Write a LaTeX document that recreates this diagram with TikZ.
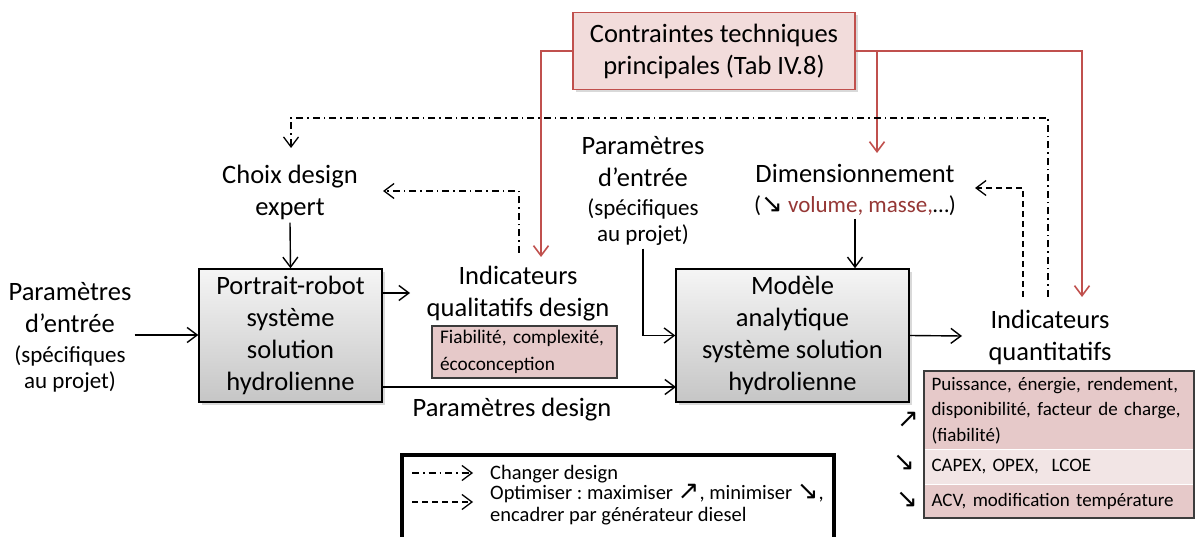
\documentclass[tikz,border=0pt]{standalone}
\usepackage{fontspec}
\setmainfont{Carlito}
\newfontfamily\arrowfont{DejaVu Sans}
\usetikzlibrary{arrows.meta,shadows}

\definecolor{redline}{RGB}{192,80,77}
\definecolor{pinkbox}{RGB}{242,220,219}
\definecolor{pinkrow}{RGB}{230,201,201}
\definecolor{palerow}{RGB}{242,229,229}
\definecolor{darkred}{RGB}{149,55,53}
\definecolor{boxline}{RGB}{60,60,60}

\newcommand{\mainsize}{\fontsize{26.5}{32}\selectfont}
\newcommand{\smallsize}{\fontsize{23}{26}\selectfont}
\newcommand{\boxsize}{\fontsize{19}{25.5}\selectfont}
\newcommand{\legsize}{\fontsize{20.5}{22}\selectfont}
\newcommand{\arrUp}{{\arrowfont\fontsize{26}{20}\selectfont ↗}}
\newcommand{\arrDown}{{\arrowfont\fontsize{26}{20}\selectfont ↘}}

\begin{document}
\frenchspacing
\begin{tikzpicture}[x=1pt, y=-1pt,
  txt/.style={font=\mainsize, align=center, inner sep=3pt},
  sysbox/.style={draw=black, line width=1.5pt, top color=gray!8, bottom color=gray!45,
    minimum width=183pt, minimum height=133pt, font=\mainsize, align=center,
    drop shadow={shadow xshift=2.5pt, shadow yshift=-3pt, opacity=0.3}},
  qrow/.style={anchor=north west, minimum width=269pt, text width=255pt, inner xsep=7pt,
    inner ysep=2pt, align=left, font=\boxsize, draw=white, line width=1pt},
  arr/.style={-{Straight Barb[length=10pt,width=15pt]}, line width=1.4pt},
  redarr/.style={arr, draw=redline, line width=1.6pt},
  chgarr/.style={arr, line width=1.3pt, dash pattern=on 7pt off 4pt on 1.5pt off 4pt},
  optarr/.style={arr, line width=1.3pt, dash pattern=on 6pt off 4pt}]
\useasboundingbox (0,0) rectangle (1195,537);

% boites principales
\node[draw=redline, line width=1.6pt, fill=pinkbox, minimum width=282pt, minimum height=77pt,
  font=\mainsize, align=center, drop shadow={shadow xshift=2.5pt, shadow yshift=-3pt, opacity=0.3}]
  (cont) at (714,51) {Contraintes techniques\\principales (Tab IV.8)};
\node[sysbox] (portrait) at (290.5,335.5) {Portrait-robot\\système\\solution\\hydrolienne};
\node[sysbox, minimum width=233pt] (modele) at (792.5,335.5) {Modèle\\analytique\\système solution\\hydrolienne};

% textes
\node[txt] (paramL) at (70,337) {Paramètres\\d’entrée\\[-2pt]{\smallsize (spécifiques}\\[-6pt]{\smallsize au projet)}};
\node[txt] (paramM) at (643,191) {Paramètres\\d’entrée\\[-3pt]{\smallsize (spécifiques}\\[-6pt]{\smallsize au projet)}};
\node[txt] (choix) at (290,192) {Choix design\\expert};
\node[txt] (qualind) at (518,294) {Indicateurs\\qualitatifs design};
\node[txt] (dimens) at (855,190) {Dimensionnement\\[-2pt]{\smallsize (\arrDown\ {\color{darkred}volume, masse,}…)}};
\node[txt] (quantind) at (1050,337) {Indicateurs\\quantitatifs};
\node[txt] (pdesign) at (512,410) {Paramètres design};

% indicateurs
\node[draw=boxline, line width=1.5pt, fill=pinkrow, minimum width=185pt, minimum height=52pt,
  text width=169pt, inner xsep=8pt, align=left, font=\fontsize{19.3}{27}\selectfont]
  (qualbox) at (524.5,352) {Fiabilité, complexité,\\écoconception};
\node[qrow, fill=pinkrow, minimum height=78pt] (qrowA) at (924,371) {Puissance, énergie, rendement,\\disponibilité, facteur de charge,\\(fiabilité)};
\node[qrow, fill=palerow, minimum height=35pt] (qrowB) at (924,449) {CAPEX, OPEX,~ LCOE};
\node[qrow, fill=pinkrow, minimum height=33pt] (qrowC) at (924,484) {ACV, modification température};
\draw[line width=1.5pt, draw=boxline] (qrowA.north west) rectangle (qrowC.south east);
\node (sensA) at (908,420) {\arrUp};
\node (sensB) at (904,463) {\arrDown};
\node (sensC) at (907,500) {\arrDown};

% points des fleches
\coordinate (paramLout) at (152,335);
\coordinate (qualin) at (410,293);
\coordinate (modin) at (676,387);
\coordinate (quantin) at (962,336);
\coordinate (qualred) at (541,257);
\coordinate (dimred) at (877,153);
\coordinate (quantred) at (1082,297);
\coordinate (quantchg) at (1048,297);
\coordinate (quantopt) at (1023,297);
\coordinate (looptop) at (291,118);
\coordinate (choixtip) at (291,148);
\coordinate (qualchg) at (519,253);
\coordinate (choixin) at (383,191);
\coordinate (dimin) at (975,188);

% fleches
\draw[arr] (paramLout -| paramL.east) -- (paramLout -| portrait.west);
\draw[arr] (choix.south) -- (portrait.north);
\draw[arr] (portrait.east |- qualin) -- (qualin);
\draw[arr] (portrait.east |- modin) -- (modin);
\draw[arr] (paramM.south) |- (modele.west);
\draw[arr] (dimens.south) -- (dimens.south |- modele.north);
\draw[arr] (modele.east) -- (quantin);
\draw[redarr] (cont.west) -| (qualred);
\draw[redarr] (cont.east) -| (quantred);
\draw[redarr] (dimred |- cont.east) -- (dimred);
\draw[chgarr] (quantchg) |- (looptop) -- (choixtip);
\draw[chgarr] (qualchg) |- (choixin);
\draw[optarr] (quantopt) |- (dimin);

% legende
\node[draw=black, line width=3.5pt, anchor=north west, minimum width=432pt, minimum height=110pt]
  (legbox) at (400,453) {};
\coordinate (legAa) at (412,473);
\coordinate (legAb) at (473,473);
\coordinate (legBa) at (412,502);
\coordinate (legBb) at (473,502);
\draw[chgarr] (legAa) -- (legAb);
\draw[optarr] (legBa) -- (legBb);
\node[anchor=west, font=\legsize, inner sep=0pt] (legA) at (490,474) {Changer design};
\node[anchor=west, font=\legsize, align=left, inner sep=0pt] (legB) at (490,505)
  {Optimiser : maximiser \arrUp, minimiser \arrDown,\\encadrer par générateur diesel};
\end{tikzpicture}
\end{document}
